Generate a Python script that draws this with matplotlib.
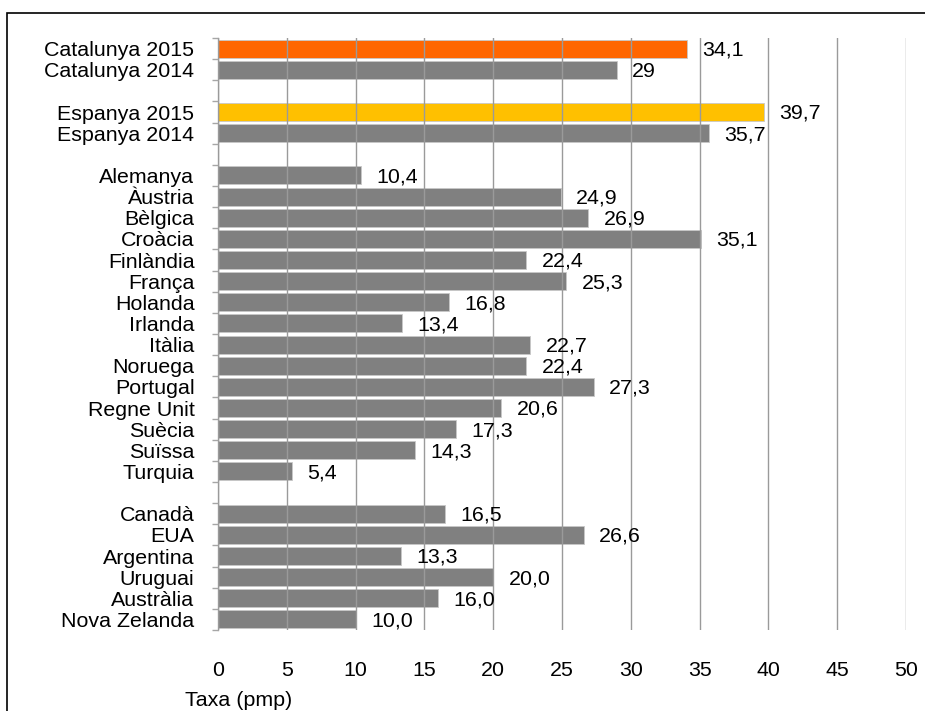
import matplotlib.pyplot as plt
from matplotlib.patches import Rectangle

plt.rcParams['font.family'] = ['Liberation Sans', 'DejaVu Sans']

# groups of bars, top to bottom, an empty slot between groups
cat_names = ['Catalunya 2015', 'Catalunya 2014']
cat_values = [34.1, 29.0]
cat_texts = ['34,1', '29']

esp_names = ['Espanya 2015', 'Espanya 2014']
esp_values = [39.7, 35.7]
esp_texts = ['39,7', '35,7']

eur_names = ['Alemanya', 'Àustria', 'Bèlgica', 'Croàcia', 'Finlàndia', 'França',
             'Holanda', 'Irlanda', 'Itàlia', 'Noruega', 'Portugal', 'Regne Unit',
             'Suècia', 'Suïssa', 'Turquia']
eur_values = [10.4, 24.9, 26.9, 35.1, 22.4, 25.3, 16.8, 13.4, 22.7, 22.4, 27.3,
              20.6, 17.3, 14.3, 5.4]
eur_texts = ['10,4', '24,9', '26,9', '35,1', '22,4', '25,3', '16,8', '13,4',
             '22,7', '22,4', '27,3', '20,6', '17,3', '14,3', '5,4']

oth_names = ['Canadà', 'EUA', 'Argentina', 'Uruguai', 'Austràlia', 'Nova Zelanda']
oth_values = [16.5, 26.6, 13.3, 20.0, 16.0, 10.0]
oth_texts = ['16,5', '26,6', '13,3', '20,0', '16,0', '10,0']

groups = [(cat_names, cat_values, cat_texts),
          (esp_names, esp_values, esp_texts),
          (eur_names, eur_values, eur_texts),
          (oth_names, oth_values, oth_texts)]

GREY = '#808080'
FS = 15.4
highlight = {'Catalunya 2015': '#ff6600', 'Espanya 2015': '#ffc000'}

# lay out the slots
pos, names, values, texts = [], [], [], []
slot = 0
for g_names, g_values, g_texts in groups:
    for n, v, t in zip(g_names, g_values, g_texts):
        pos.append(slot)
        names.append(n)
        values.append(v)
        texts.append(t)
        slot += 1
    slot += 1
nslots = slot - 1

fig = plt.figure(figsize=(9.25, 7.11), dpi=100)
ax = fig.add_axes([218 / 925, 1 - 630 / 711, (906 - 218) / 925, (630 - 38) / 711])

colors = [highlight.get(n, GREY) for n in names]
ax.barh(pos, values, height=0.85, color=colors, edgecolor='#c8c8c8',
        linewidth=0.6, zorder=2)

for p, v, t in zip(pos, values, texts):
    ax.annotate(t, (v, p), xytext=(11, -1), textcoords='offset points',
                ha='left', va='center', fontsize=FS, color='black')

ax.set_xlim(0, 50)
ax.set_ylim(nslots - 0.5, -0.5)
ax.set_xticks(range(0, 51, 5))
ax.set_yticks(pos)
ax.set_yticklabels(names)
ax.set_yticks([s - 0.5 for s in range(nslots + 1)], minor=True)

ax.grid(True, axis='x', color='#9a9a9a', linewidth=1.0, zorder=3)
ax.set_axisbelow(False)

for side in ['top', 'right', 'bottom']:
    ax.spines[side].set_visible(False)
ax.spines['left'].set_color('#a6a6a6')
ax.spines['left'].set_linewidth(1.0)

ax.tick_params(axis='x', length=0, pad=22, labelsize=FS)
ax.tick_params(axis='y', which='major', length=0, pad=17, labelsize=FS)
ax.tick_params(axis='y', which='minor', length=4, color='#a6a6a6', width=1.0)

fig.text(185 / 925, 1 - 700 / 711, 'Taxa (pmp)', ha='left', va='center', fontsize=FS)

# outer frame, partly outside the image
fig.patches.append(Rectangle((7 / 925, -0.1), 1.2, 1.1 - 13 / 711,
                             transform=fig.transFigure, fill=False,
                             edgecolor='black', linewidth=1.2))

fig.savefig('out.png', dpi=100)
